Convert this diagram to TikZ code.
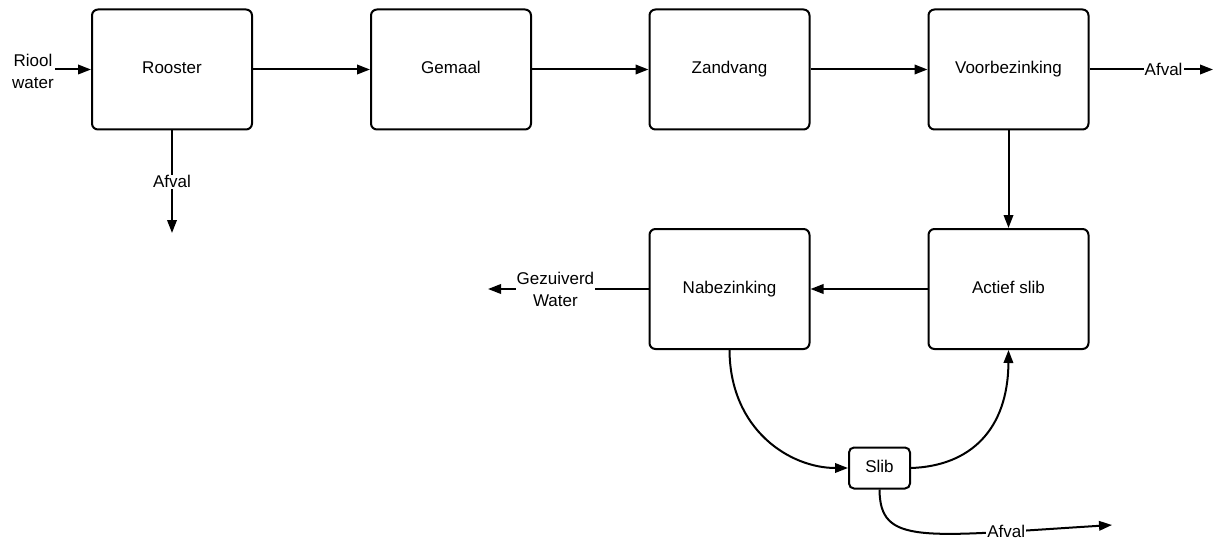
\documentclass[tikz,border=0pt]{standalone}
\usepackage{fontspec}
\setmainfont{Liberation Sans}
\usetikzlibrary{arrows.meta}
\begin{document}
\begin{tikzpicture}[x=1pt,y=-1pt,
  every node/.style={font=\fontsize{17}{22}\selectfont, align=center},
  unit/.style={draw, line width=2pt, rounded corners=6pt, minimum width=160pt, minimum height=120pt, inner sep=0pt, text height=12.4pt, text depth=3.6pt},
  smallunit/.style={draw, line width=2pt, rounded corners=5pt, minimum width=61pt, minimum height=41pt, inner sep=0pt, text height=12.4pt, text depth=3.6pt},
  flow/.style={line width=2pt, -{Triangle[length=13pt,width=9.5pt]}},
  tag/.style={fill=white, inner sep=1pt}]
  \useasboundingbox (0,0) rectangle (1214,540);

  % process units
  \node[unit] (rooster) at (172,69.5) {Rooster};
  \node[unit] (gemaal) at (451,69.5) {Gemaal};
  \node[unit] (zandvang) at (729.5,69.5) {Zandvang};
  \node[unit] (voor) at (1008.5,69.5) {Voorbezinking};
  \node[unit] (actief) at (1008.5,289) {Actief slib};
  \node[unit] (nabez) at (729.5,289) {Nabezinking};
  \node[smallunit] (slib) at (879.5,468) {Slib};

  % free ends
  \node (riool) at (33,71) {Riool\\water};
  \coordinate (in) at (55,69.5);
  \coordinate (afval1) at (172,233);
  \coordinate (afval2) at (1213,69.5);
  \coordinate (uit) at (488,289);
  \coordinate (afval3) at (1112,525);

  % main line
  \draw[flow] (in) -- (rooster.west);
  \draw[flow] (rooster) -- (gemaal);
  \draw[flow] (gemaal) -- (zandvang);
  \draw[flow] (zandvang) -- (voor);
  \draw[flow] (voor) -- (actief);
  \draw[flow] (actief) -- (nabez);

  % side streams
  \draw[flow] (rooster.south) -- node[tag, pos=0.5] {Afval} (afval1);
  \draw[flow] (voor.east) -- node[tag, pos=0.6] {Afval} (afval2);
  \draw[flow] (nabez.west) -- node[tag, pos=0.58] {Gezuiverd\\Water} (uit);

  % sludge loop
  \draw[flow] (nabez.south) .. controls (730,430) and (790,468) .. (slib.west);
  \draw[flow] (slib.east) .. controls (970,466) and (1008,430) .. (actief.south);
  \draw[flow] (slib.south) .. controls (880,545) and (920,537) .. node[tag, pos=0.78] {Afval} (afval3);
\end{tikzpicture}
\end{document}
